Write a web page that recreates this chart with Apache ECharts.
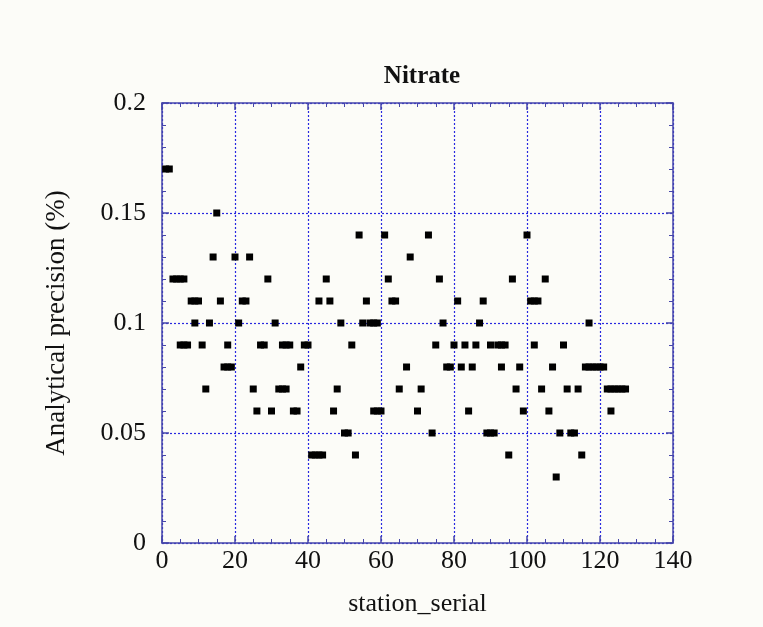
<!DOCTYPE html>
<html>
<head>
<meta charset="utf-8">
<script src="https://cdn.jsdelivr.net/npm/echarts@6/dist/echarts.min.js"></script>
<style>
html,body{margin:0;padding:0;background:#fcfcf8;}
#chart{width:763px;height:627px;}
</style>
</head>
<body>
<div id="chart"></div>
<script>
var chartTitle = "Nitrate";
var xAxisName = "station_serial";
var yAxisName = "Analytical precision (%)";

var stationSerial = [
  1,2,15,14,20,24,3,4,5,6,29,8,9,10,16,22,23,9,13,21,31,
  5,6,7,11,18,27,28,33,34,35,17,18,19,12,25,32,33,34,26,30,36,37,
  54,61,68,45,62,43,46,56,63,64,49,55,57,58,59,39,40,52,38,67,48,65,
  47,58,59,60,70,50,51,41,42,43,44,53,
  73,100,76,96,105,81,88,101,102,103,77,87,
  75,80,83,86,90,92,93,94,102,78,79,82,85,93,98,107,71,97,104,84,99,106,
  74,89,90,91,95,
  117,110,116,117,118,119,120,121,111,114,122,123,124,125,126,127,123,109,112,113,115,108
];
var precision = [
  0.17,0.17,0.15,0.13,0.13,0.13,0.12,0.12,0.12,0.12,0.12,0.11,0.11,0.11,0.11,0.11,0.11,0.10,0.10,0.10,0.10,
  0.09,0.09,0.09,0.09,0.09,0.09,0.09,0.09,0.09,0.09,0.08,0.08,0.08,0.07,0.07,0.07,0.07,0.07,0.06,0.06,0.06,0.06,
  0.14,0.14,0.13,0.12,0.12,0.11,0.11,0.11,0.11,0.11,0.10,0.10,0.10,0.10,0.10,0.09,0.09,0.09,0.08,0.08,0.07,0.07,
  0.06,0.06,0.06,0.06,0.06,0.05,0.05,0.04,0.04,0.04,0.04,0.04,
  0.14,0.14,0.12,0.12,0.12,0.11,0.11,0.11,0.11,0.11,0.10,0.10,
  0.09,0.09,0.09,0.09,0.09,0.09,0.09,0.09,0.09,0.08,0.08,0.08,0.08,0.08,0.08,0.08,0.07,0.07,0.07,0.06,0.06,0.06,
  0.05,0.05,0.05,0.05,0.04,
  0.10,0.09,0.08,0.08,0.08,0.08,0.08,0.08,0.07,0.07,0.07,0.07,0.07,0.07,0.07,0.07,0.06,0.05,0.05,0.05,0.04,0.03
];

var points = stationSerial.map(function (x, i) { return [x, precision[i]]; });

var axisBlue = "#4646aa";
var gridBlue = "#2828e0";
var font = "'Liberation Serif', 'DejaVu Serif', serif";

var chart = echarts.init(document.getElementById('chart'), null, {renderer: 'canvas'});

function baseX(pos, labels) {
  return {
    type: 'value', position: pos, min: 0, max: 140, interval: 20,
    axisLine: {show: true, onZero: false, lineStyle: {color: axisBlue, width: 1.5}},
    axisTick: {show: true, inside: true, length: 7, lineStyle: {color: axisBlue, width: 1.5}},
    minorTick: {show: true, splitNumber: 4, length: 4, lineStyle: {color: axisBlue, width: 1}},
    splitLine: {show: labels, lineStyle: {color: gridBlue, type: [2, 2], width: 1.2}},
    axisLabel: {show: labels, color: '#111', fontFamily: font, fontSize: 26, margin: 5}
  };
}
function baseY(pos, labels) {
  return {
    type: 'value', position: pos, min: 0, max: 0.2, interval: 0.05,
    axisLine: {show: true, onZero: false, lineStyle: {color: axisBlue, width: 1.5}},
    axisTick: {show: true, inside: true, length: 7, lineStyle: {color: axisBlue, width: 1.5}},
    minorTick: {show: true, splitNumber: 5, length: 4, lineStyle: {color: axisBlue, width: 1}},
    splitLine: {show: labels, lineStyle: {color: gridBlue, type: [2, 2], width: 1.2}},
    axisLabel: {show: labels, color: '#111', fontFamily: font, fontSize: 26, margin: 16}
  };
}

var x0 = baseX('bottom', true);
x0.name = xAxisName;
x0.nameLocation = 'middle';
x0.nameGap = 48;
x0.nameTextStyle = {color: '#111', fontFamily: font, fontSize: 26};
var x1 = baseX('top', false);

var y0 = baseY('left', true);
y0.name = yAxisName;
y0.nameLocation = 'middle';
y0.nameGap = 92;
y0.nameTextStyle = {color: '#111', fontFamily: font, fontSize: 27};
var y1 = baseY('right', false);

chart.setOption({
  backgroundColor: '#fcfcf8',
  animation: false,
  title: {
    text: chartTitle, left: 417, textAlign: 'center', top: 59,
    textStyle: {color: '#111', fontFamily: font, fontSize: 25, fontWeight: 'bold'}
  },
  grid: {left: 162, right: 90, top: 103, bottom: 84, containLabel: false},
  xAxis: [x0, x1],
  yAxis: [y0, y1],
  series: [{
    type: 'scatter',
    xAxisIndex: 0, yAxisIndex: 0,
    symbol: 'rect', symbolSize: [7, 7],
    itemStyle: {color: '#000', opacity: 1},
    emphasis: {disabled: true},
    data: points
  }]
});
</script>
</body>
</html>
